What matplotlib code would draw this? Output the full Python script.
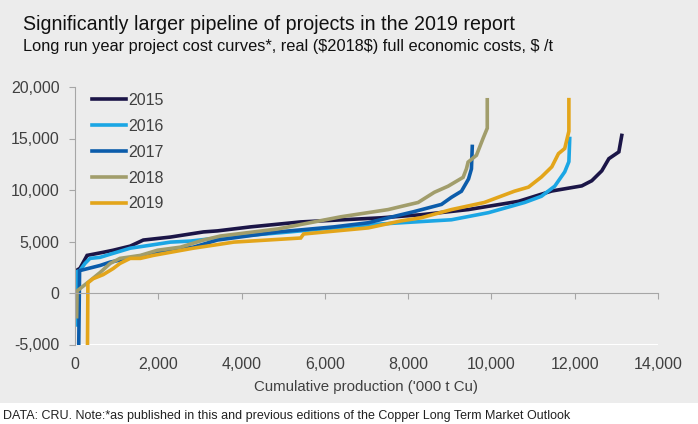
import matplotlib
matplotlib.use('Agg')
import matplotlib.pyplot as plt
from matplotlib.ticker import FuncFormatter
from matplotlib.patches import Rectangle

# values ('000 t Cu, $/t)
years = ['2015', '2016', '2017', '2018', '2019']

x_2015 = [30, 40, 120, 290, 675, 915, 1325, 1640, 2290, 3085, 3420, 4217, 5420, 6385, 7350,
          8313, 9446, 10650, 11446, 12170, 12410, 12650, 12820, 13060, 13130]
y_2015 = [500, 2200, 2400, 3650, 3950, 4150, 4550, 5140, 5430, 5930, 6030, 6420, 6900, 7100, 7300,
          7600, 8100, 8900, 9900, 10400, 10900, 11860, 13040, 13700, 15300]

x_2016 = [40, 60, 120, 240, 360, 600, 915, 1325, 1810, 2290, 2770, 3420, 4870, 7040, 7830,
          9040, 9930, 10800, 11200, 11520, 11760, 11860, 11880]
y_2016 = [-3100, 2100, 2200, 2870, 3360, 3460, 3850, 4350, 4640, 4940, 5040, 5340, 5830, 6620, 6820,
          7110, 7800, 8790, 9390, 10370, 11760, 12750, 15000]

x_2017 = [90, 110, 600, 845, 1245, 1640, 2050, 2840, 3420, 4870, 6220, 7040, 7830, 8140,
          8800, 9040, 9280, 9450, 9520, 9540]
y_2017 = [-5000, 2170, 2670, 3000, 3330, 3650, 3980, 4450, 5140, 5930, 6420, 6820, 7600, 7900,
          8600, 9290, 9880, 11070, 12050, 14230]

x_2018 = [40, 50, 360, 600, 845, 1080, 1570, 1980, 2530, 3085, 3490, 4870, 6385, 7520, 7830,
          8240, 8630, 8960, 9320, 9400, 9440, 9640, 9800, 9900, 9900]
y_2018 = [-2300, 200, 1190, 1980, 2870, 3360, 3650, 4150, 4450, 5140, 5530, 6220, 7400, 8100, 8400,
          8790, 9780, 10370, 11230, 12060, 12710, 13370, 15020, 16000, 18760]

x_2019 = [300, 310, 430, 675, 915, 1080, 1325, 1570, 1880, 2290, 2840, 3490, 3810, 5420, 5490,
          7040, 7830, 8310, 9040, 9830, 10550, 10890, 11200, 11450, 11610, 11760, 11860, 11860]
y_2019 = [-5000, 990, 1380, 1780, 2370, 2870, 3360, 3360, 3650, 3950, 4350, 4740, 4940, 5340, 5730,
          6320, 7000, 7300, 8100, 8790, 9880, 10280, 11260, 12250, 13530, 14030, 15700, 18770]

colors = ['#1b1547', '#1ba6e4', '#0b5cab', '#a19d6b', '#e3a51a']
xticks = [0, 2000, 4000, 6000, 8000, 10000, 12000, 14000]
yticks = [-5000, 0, 5000, 10000, 15000, 20000]

plt.rcParams['font.family'] = ['Liberation Sans', 'DejaVu Sans']
grey_txt = '#404040'
spine_col = '#a6a6a6'

fig = plt.figure(figsize=(6.98, 4.24), dpi=100, facecolor='#ececec')
ax = fig.add_axes([75 / 698, 1 - 344.5 / 424, (658 - 75) / 698, (344.5 - 87) / 424])
ax.set_facecolor('none')

series = [(x_2015, y_2015), (x_2016, y_2016), (x_2017, y_2017), (x_2018, y_2018), (x_2019, y_2019)]
for (xs, ys), yr, c in zip(series, years, colors):
    ax.plot(xs, ys, color=c, lw=2.6, label=yr, solid_joinstyle='miter')

ax.set_xlim(0, 14000)
ax.set_ylim(-5000, 20000)
ax.set_yticks(yticks)
ax.yaxis.set_major_formatter(FuncFormatter(lambda v, p: f'{v:,.0f}'))
ax.tick_params(axis='y', colors=spine_col, labelcolor=grey_txt, labelsize=11.5, length=4.5, pad=6.5)

for s in ['top', 'right']:
    ax.spines[s].set_visible(False)
ax.spines['left'].set_color(spine_col)
ax.spines['bottom'].set_color(spine_col)
ax.spines['bottom'].set_position(('data', 0))
ax.set_xticks(xticks)
ax.tick_params(axis='x', colors=spine_col, length=4, labelbottom=False)

# tick labels sit below the plot, not on the zero line
sec = ax.secondary_xaxis('bottom')
sec.spines['bottom'].set_visible(False)
sec.set_xticks(xticks)
sec.xaxis.set_major_formatter(FuncFormatter(lambda v, p: f'{v:,.0f}'))
sec.tick_params(length=0, pad=9, labelsize=11.5, labelcolor=grey_txt)
sec.set_xlabel("Cumulative production ('000 t Cu)", fontsize=10.8, color=grey_txt, labelpad=6)

ax.legend(loc='upper left', bbox_to_anchor=(92 / 698, 1 - 93 / 424), bbox_transform=fig.transFigure,
          frameon=False, fontsize=11.5, handlelength=2.1, handletextpad=0.2, labelspacing=0.68,
          borderpad=0, borderaxespad=0, labelcolor=grey_txt)

fig.text(23 / 698, 1 - 30 / 424, 'Significantly larger pipeline of projects in the 2019 report',
         fontsize=14.1, color='#111111', va='baseline')
fig.text(23 / 698, 1 - 51 / 424, 'Long run year project cost curves*, real ($2018$) full economic costs, $ /t',
         fontsize=11.8, color='#111111', va='baseline')

fig.patches.append(Rectangle((0, 0), 1, 21 / 424, transform=fig.transFigure, facecolor='white',
                             edgecolor='none', zorder=0))
fig.text(3 / 698, 1 - 416 / 424, 'DATA: CRU. Note:*as published in this and previous editions of the '
         'Copper Long Term Market Outlook', fontsize=9, color='#222222', va='center')

fig.savefig('out.png', dpi=100, facecolor=fig.get_facecolor())
